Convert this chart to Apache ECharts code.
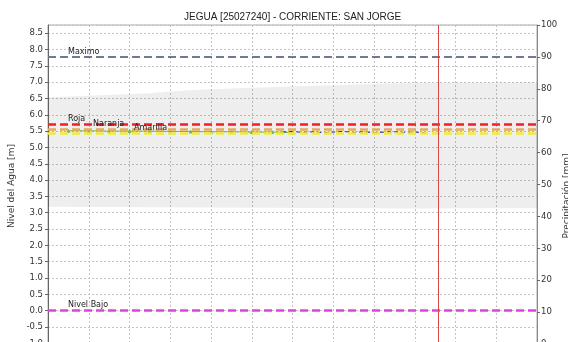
<!DOCTYPE html>
<html>
<head>
<meta charset="utf-8">
<script src="https://cdn.jsdelivr.net/npm/echarts@6/dist/echarts.min.js"></script>
<style>
  html, body { margin: 0; padding: 0; background: #fff; overflow: hidden; }
  /* el grafico original esta recortado abajo: el div es mas alto que la ventana */
  #chart { width: 568px; height: 376px; }
</style>
</head>
<body>
<div id="chart"></div>
<script>
// banda gris (rango historico)
const bandX = [-0.5, 2, 3, 5, 6.6, 8.3, 11.5]
const bandLow = [3.18, 3.17, 3.16, 3.15, 3.14, 3.13, 3.14]
const bandHigh = [6.54, 6.66, 6.76, 6.85, 6.91, 6.97, 7.0]

// nivel observado
const obsX = [0, 0.5, 1, 1.5, 2, 2.5, 3, 3.5, 4, 4.5, 5, 5.5]
const obsY = [5.51, 5.51, 5.50, 5.50, 5.50, 5.49, 5.49, 5.48, 5.48, 5.47, 5.47, 5.46]

// pronostico
const fcX = [5.25, 5.5, 5.75, 6, 6.25, 6.5, 6.75, 7, 7.25, 7.5, 7.75, 8, 8.25, 8.5, 8.75]
const fcY = [5.47, 5.49, 5.46, 5.48, 5.45, 5.47, 5.49, 5.46, 5.48, 5.45, 5.47, 5.48, 5.46, 5.47, 5.45]

// umbrales
const umbralNames = ['Maximo', 'Roja', 'Naranja', 'Amarilla', 'Nivel Bajo']
const umbralValues = [7.78, 5.72, 5.565, 5.427, 0.02]
const umbralColors = ['#6e7898', '#f02020', '#e8a860', '#eeee30', '#e040e0']
const umbralLabelX = [20, 20, 45, 86, 20]

const nowX = 9.07

const chart = echarts.init(document.getElementById('chart'))

const zip = (xs, ys) => xs.map((x, i) => [x, ys[i]])
const gridLine = { show: true, lineStyle: { color: '#c4c4c4', type: [2, 2], width: 1 } }

chart.setOption({
  animation: false,
  title: {
    text: 'JEGUA [25027240] - CORRIENTE: SAN JORGE',
    left: 179,
    top: 7,
    textStyle: { fontFamily: 'Liberation Sans', fontSize: 10, fontWeight: 'normal', color: '#222' }
  },
  grid: {
    left: 48,
    right: 31,
    top: 25,
    bottom: 0,
    outerBoundsMode: 'none',
    show: true,
    borderColor: '#aaa',
    borderWidth: 1
  },
  xAxis: {
    type: 'value',
    min: -0.5,
    max: 11.5,
    interval: 1,
    axisLine: { show: false },
    axisTick: { show: false },
    axisLabel: { show: false },
    splitLine: gridLine
  },
  yAxis: [{
    type: 'value',
    min: -2,
    max: 8.75,
    interval: 0.5,
    position: 'left',
    axisLine: { show: true, onZero: false, lineStyle: { color: '#666' } },
    axisTick: { show: true, length: 3, lineStyle: { color: '#666' } },
    axisLabel: {
      showMaxLabel: false,
      margin: 5,
      fontFamily: 'DejaVu Sans',
      fontSize: 8.5,
      color: '#333',
      formatter: v => v.toFixed(1)
    },
    splitLine: gridLine
  }, {
    type: 'value',
    min: -10,
    max: 100,
    interval: 10,
    position: 'right',
    axisLine: { show: true, onZero: false, lineStyle: { color: '#888' } },
    axisTick: { show: true, length: 3, lineStyle: { color: '#666' } },
    axisLabel: { margin: 4, fontFamily: 'DejaVu Sans', fontSize: 8.5, color: '#333' },
    splitLine: { show: false }
  }],
  graphic: [{
    type: 'text',
    x: 7,
    y: 186,
    rotation: Math.PI / 2,
    style: {
      text: 'Nivel del Agua [m]',
      fontFamily: 'DejaVu Sans',
      fontSize: 9,
      fill: '#333',
      align: 'center',
      verticalAlign: 'top'
    }
  }, {
    type: 'text',
    x: 562,
    y: 196,
    rotation: Math.PI / 2,
    style: {
      text: 'Precipitación [mm]',
      fontFamily: 'DejaVu Sans',
      fontSize: 9,
      fill: '#333',
      align: 'center',
      verticalAlign: 'top'
    }
  }],
  series: [{
    type: 'custom',
    silent: true,
    data: bandX.map((x, i) => [x, bandLow[i], bandHigh[i]]),
    encode: { x: 0, y: [1, 2] },
    renderItem: (params, api) => {
      if (params.dataIndex !== 0) return
      const top = bandX.map((x, i) => api.coord([x, bandHigh[i]]))
      const bot = bandX.map((x, i) => api.coord([x, bandLow[i]])).reverse()
      return {
        type: 'polygon',
        shape: { points: top.concat(bot) },
        style: { fill: 'rgba(0,0,0,0.065)' }
      }
    },
    z: 1
  }, {
    name: 'Observado',
    type: 'line',
    data: zip(obsX, obsY),
    symbol: 'triangle',
    symbolSize: 4,
    itemStyle: { color: '#6cbf3c' },
    lineStyle: { color: '#6cbf3c', width: 1 },
    z: 4,
    markLine: {
      silent: true,
      symbol: 'none',
      data: umbralValues.map((v, i) => ({
        yAxis: v,
        lineStyle: { color: umbralColors[i], type: [8, 4], width: i === 0 ? 2 : 2.5 },
        label: {
          show: true,
          position: 'insideStartTop',
          distance: [umbralLabelX[i], 1],
          formatter: umbralNames[i],
          fontFamily: 'DejaVu Sans',
          fontSize: 8,
          color: '#222'
        }
      })).concat([{
        xAxis: nowX,
        lineStyle: { color: '#d84848', type: 'solid', width: 1 },
        label: { show: false }
      }])
    }
  }, {
    name: 'Pronostico',
    type: 'line',
    data: zip(fcX, fcY),
    symbol: 'none',
    lineStyle: { color: '#2a2aa0', width: 1, type: [4, 3] },
    z: 4
  }]
})
</script>
</body>
</html>
